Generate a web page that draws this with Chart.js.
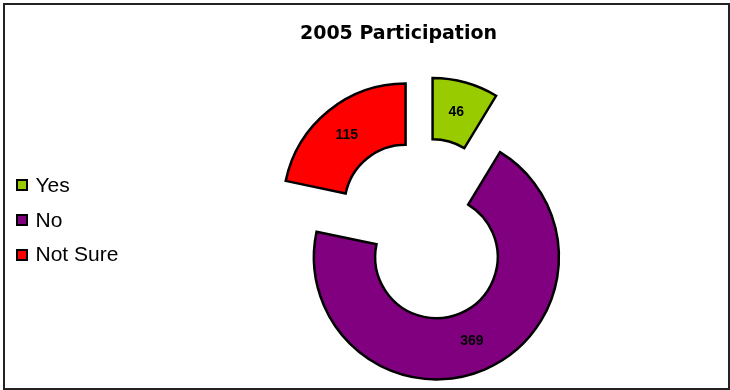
<!DOCTYPE html>
<html>
<head>
<meta charset="utf-8">
<title>2005 Participation</title>
<script src="https://cdn.jsdelivr.net/npm/chart.js@4.4.1/dist/chart.umd.min.js"></script>
<style>
  html, body { margin: 0; padding: 0; background: #fff; }
  #wrap { position: relative; width: 730px; height: 390px; overflow: hidden; }
  #frame { position: absolute; left: 3px; top: 3px; width: 723px; height: 383px; border: 2px solid #222; }
  #chart { position: absolute; left: 0; top: 0; }
  #title {
    position: absolute; left: 298px; width: 201px; top: 23px;
    font: bold 19px/19px "DejaVu Sans", Verdana, sans-serif; color: #000;
    text-align: center; white-space: nowrap;
  }
  .legend-row { position: absolute; left: 0; height: 21px; font: 21px/21px "Liberation Sans", Arial, sans-serif; color: #000; white-space: nowrap; }
  .legend-row .box { position: absolute; left: 15.5px; top: 5.4px; width: 8px; height: 8px; border: 2px solid #000; }
  .legend-row .txt { position: absolute; left: 35.5px; top: 0; }
</style>
</head>
<body>
<div id="wrap">
  <canvas id="chart" width="730" height="390"></canvas>
  <div id="frame"></div>
  <div id="title">2005 Participation</div>
  <div id="legend"></div>
</div>
<script>
// 2005 participation survey, exploded doughnut
const categories = ['Yes', 'No', 'Not Sure'];
const responses = [46, 369, 115];
const sliceColors = ['#99CC00', '#800080', '#FF0000'];

const EXPLODE = 30;     // px each slice is pulled out along its bisector
const legendTops = [173.9, 208.6, 243.3];

// Excel-style explosion: draw each arc shifted out from the centre
const explodePlugin = {
  id: 'explode',
  beforeDatasetDraw(chart, args) {
    const ctx = chart.ctx;
    args.meta.data.forEach(arc => {
      const mid = (arc.startAngle + arc.endAngle) / 2;
      ctx.save();
      ctx.translate(Math.cos(mid) * EXPLODE, Math.sin(mid) * EXPLODE);
      arc.draw(ctx);
      ctx.restore();
    });
    return false;
  },
  afterDatasetsDraw(chart) {
    const ctx = chart.ctx;
    const meta = chart.getDatasetMeta(0);
    ctx.save();
    ctx.font = 'bold 14px "Liberation Sans", Arial, sans-serif';
    ctx.fillStyle = '#000';
    ctx.textAlign = 'center';
    ctx.textBaseline = 'middle';
    meta.data.forEach((arc, i) => {
      const mid = (arc.startAngle + arc.endAngle) / 2;
      const p = arc.tooltipPosition();
      ctx.fillText(String(responses[i]), p.x + Math.cos(mid) * EXPLODE - 1, p.y + Math.sin(mid) * EXPLODE);
    });
    ctx.restore();
  }
};

function renderLegend() {
  const el = document.getElementById('legend');
  el.innerHTML = '';
  categories.forEach((c, i) => {
    const row = document.createElement('div'); row.className = 'legend-row';
    row.style.top = legendTops[i] + 'px';
    row.innerHTML = `<span class="box" style="background:${sliceColors[i]}"></span><span class="txt">${c}</span>`;
    el.appendChild(row);
  });
}

new Chart(document.getElementById('chart').getContext('2d'), {
  type: 'doughnut',
  data: {
    labels: categories,
    datasets: [{
      data: responses,
      backgroundColor: sliceColors,
      borderColor: '#000',
      borderWidth: 2.5,
      borderJoinStyle: 'miter'
    }]
  },
  options: {
    responsive: false,
    animation: false,
    radius: 122.5,
    cutout: '50%',
    layout: { padding: { left: 129, right: 10, top: 78.8, bottom: 10 } },
    plugins: { legend: { display: false }, title: { display: false }, tooltip: { enabled: false } }
  },
  plugins: [explodePlugin]
});

renderLegend();
</script>
</body>
</html>
